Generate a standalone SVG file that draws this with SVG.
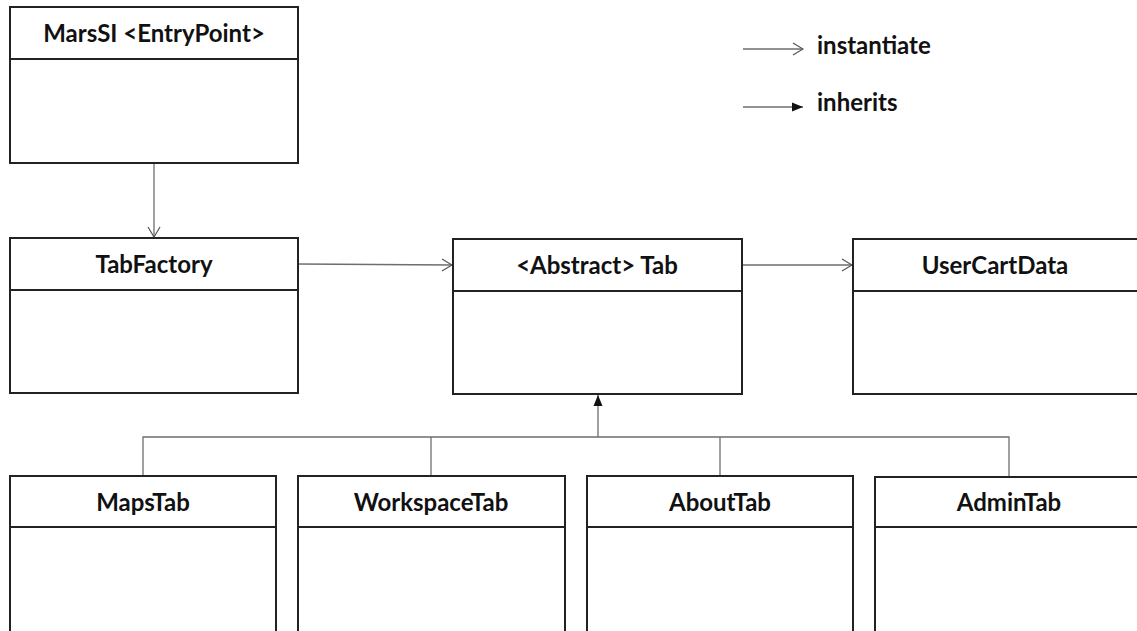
<svg xmlns="http://www.w3.org/2000/svg" width="1137" height="631" viewBox="0 0 1137 631">
  <style>
    .box { fill: #ffffff; stroke: #222222; stroke-width: 2; }
    .div { stroke: #222222; stroke-width: 2; }
    .lbl { font-family: Lato, "Liberation Sans", sans-serif; font-weight: bold; font-size: 24px; fill: #111111; text-anchor: middle; }
    .leg { font-family: Lato, "Liberation Sans", sans-serif; font-weight: bold; font-size: 24px; fill: #111111; }
    .conn { fill: none; stroke: #6e6e6e; stroke-width: 1.3; }
  </style>
  <defs>
    <marker id="open" markerWidth="12" markerHeight="14" refX="11" refY="7" orient="auto" markerUnits="userSpaceOnUse">
      <path d="M1,1 L11,7 L1,13" fill="none" stroke="#555555" stroke-width="1.2"/>
    </marker>
    <marker id="solid" markerWidth="12" markerHeight="10" refX="11" refY="5" orient="auto" markerUnits="userSpaceOnUse">
      <path d="M0,0.5 L11,5 L0,9.5 Z" fill="#111111"/>
    </marker>
  </defs>
  <rect width="1137" height="631" fill="#ffffff"/>

  <!-- connectors -->
  <g id="connectors">
    <line class="conn" x1="154" y1="163" x2="154" y2="237" marker-end="url(#open)"/>
    <line class="conn" x1="298" y1="264" x2="452" y2="265" marker-end="url(#open)"/>
    <line class="conn" x1="742" y1="265" x2="852" y2="265" marker-end="url(#open)"/>
    <polyline class="conn" points="143,476 143,437 1009,437 1009,476"/>
    <line class="conn" x1="431" y1="437" x2="431" y2="476"/>
    <line class="conn" x1="720" y1="437" x2="720" y2="476"/>
    <line class="conn" x1="598" y1="437" x2="598" y2="395" stroke="#222222" marker-end="url(#solid)"/>
  </g>

  <!-- legend -->
  <g id="legend">
    <line class="conn" x1="743" y1="49" x2="803" y2="49" marker-end="url(#open)"/>
    <text class="leg" x="817" y="54">instantiate</text>
    <line class="conn" x1="743" y1="107" x2="803" y2="107" stroke="#111111" marker-end="url(#solid)"/>
    <text class="leg" x="817" y="111">inherits</text>
  </g>

  <g id="marssi">
    <rect class="box" x="10" y="7" width="288" height="156"/>
    <line class="div" x1="10" y1="59" x2="298" y2="59"/>
    <text class="lbl" x="154" y="42">MarsSI &lt;EntryPoint&gt;</text>
  </g>

  <g id="tabfactory">
    <rect class="box" x="10" y="238" width="288" height="155"/>
    <line class="div" x1="10" y1="290" x2="298" y2="290"/>
    <text class="lbl" x="154" y="273">TabFactory</text>
  </g>

  <g id="tab">
    <rect class="box" x="453" y="239" width="289" height="155"/>
    <line class="div" x1="453" y1="291" x2="742" y2="291"/>
    <text class="lbl" x="597" y="274">&lt;Abstract&gt; Tab</text>
  </g>

  <g id="usercartdata">
    <rect class="box" x="853" y="239" width="300" height="155"/>
    <line class="div" x1="853" y1="291" x2="1137" y2="291"/>
    <text class="lbl" x="995" y="274">UserCartData</text>
  </g>

  <g id="mapstab">
    <rect class="box" x="10" y="476" width="266" height="170"/>
    <line class="div" x1="10" y1="527" x2="276" y2="527"/>
    <text class="lbl" x="143" y="511">MapsTab</text>
  </g>

  <g id="workspacetab">
    <rect class="box" x="298" y="476" width="267" height="170"/>
    <line class="div" x1="298" y1="527" x2="565" y2="527"/>
    <text class="lbl" x="431" y="511">WorkspaceTab</text>
  </g>

  <g id="abouttab">
    <rect class="box" x="587" y="476" width="266" height="170"/>
    <line class="div" x1="587" y1="527" x2="853" y2="527"/>
    <text class="lbl" x="720" y="511">AboutTab</text>
  </g>

  <g id="admintab">
    <rect class="box" x="875" y="477" width="280" height="170"/>
    <line class="div" x1="875" y1="527" x2="1137" y2="527"/>
    <text class="lbl" x="1009" y="511">AdminTab</text>
  </g>
</svg>
